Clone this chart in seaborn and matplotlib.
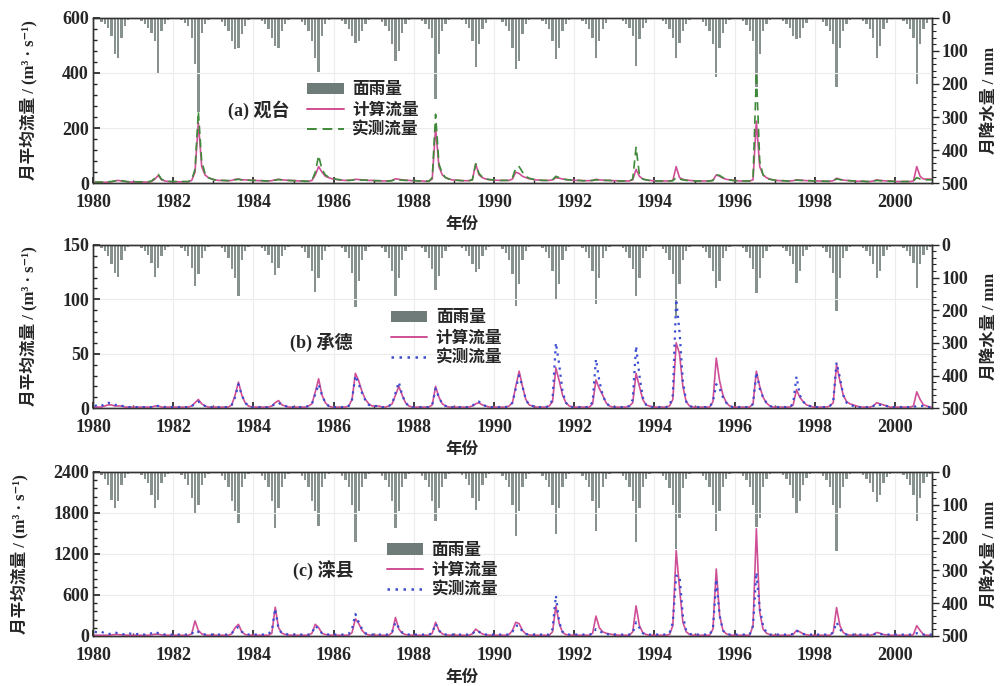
import numpy as np
import pandas as pd
import matplotlib
matplotlib.use("Agg")
import matplotlib.pyplot as plt
from matplotlib.patches import Patch
from matplotlib.lines import Line2D
from matplotlib.ticker import MultipleLocator
import seaborn as sns

years = list(range(1980, 2001))

# (a) 观台 —— monthly rows, Jan..Dec
guantai_rain = [
    [2, 5, 12, 20, 30, 55, 110, 122, 60, 25, 8, 3],
    [3, 4, 10, 18, 30, 45, 70, 168, 40, 20, 6, 2],
    [2, 3, 8, 15, 25, 60, 140, 285, 45, 20, 6, 2],
    [3, 5, 12, 25, 40, 70, 95, 90, 50, 25, 8, 3],
    [2, 4, 10, 20, 35, 60, 85, 92, 40, 18, 6, 2],
    [2, 4, 12, 22, 40, 70, 120, 163, 55, 20, 6, 2],
    [2, 4, 10, 20, 35, 55, 75, 70, 40, 18, 6, 2],
    [3, 5, 12, 25, 40, 80, 130, 100, 45, 20, 8, 3],
    [2, 4, 10, 20, 35, 60, 245, 110, 40, 18, 6, 2],
    [2, 3, 8, 18, 30, 70, 148, 80, 35, 15, 5, 2],
    [3, 5, 12, 25, 40, 90, 155, 130, 50, 20, 7, 3],
    [2, 4, 10, 20, 35, 70, 125, 90, 40, 18, 6, 2],
    [2, 4, 10, 20, 35, 60, 120, 70, 35, 15, 5, 2],
    [2, 4, 10, 20, 30, 55, 145, 65, 30, 15, 5, 2],
    [2, 4, 10, 20, 35, 60, 120, 75, 40, 18, 6, 2],
    [3, 5, 12, 25, 40, 80, 180, 90, 45, 20, 7, 3],
    [2, 4, 10, 22, 40, 70, 210, 110, 40, 18, 6, 2],
    [2, 4, 10, 20, 30, 55, 65, 60, 30, 15, 5, 2],
    [3, 5, 12, 25, 40, 80, 210, 90, 40, 18, 6, 2],
    [2, 4, 10, 20, 35, 60, 120, 85, 35, 15, 5, 2],
    [2, 4, 10, 20, 35, 60, 200, 80, 35, 15, 5, 2],
]
guantai_calc = [
    [3, 3, 3, 3, 4, 5, 8, 10, 8, 6, 5, 4],
    [4, 4, 4, 4, 4, 6, 15, 28, 12, 8, 6, 5],
    [5, 5, 5, 5, 5, 10, 40, 220, 60, 30, 20, 15],
    [12, 10, 10, 9, 9, 10, 14, 15, 12, 12, 11, 10],
    [10, 9, 9, 8, 8, 9, 12, 14, 12, 11, 10, 10],
    [9, 8, 8, 7, 7, 10, 30, 60, 40, 25, 20, 16],
    [14, 12, 11, 10, 10, 11, 14, 13, 12, 11, 10, 10],
    [9, 9, 8, 8, 8, 10, 16, 14, 12, 11, 10, 9],
    [9, 8, 8, 7, 7, 15, 200, 60, 30, 20, 15, 12],
    [11, 10, 9, 9, 9, 12, 70, 30, 20, 15, 13, 12],
    [11, 10, 10, 10, 10, 15, 40, 35, 25, 20, 16, 14],
    [12, 11, 10, 10, 10, 12, 20, 18, 15, 13, 12, 11],
    [10, 10, 9, 9, 9, 10, 14, 12, 11, 10, 10, 9],
    [9, 8, 8, 8, 8, 12, 50, 25, 15, 12, 10, 9],
    [8, 8, 8, 8, 8, 10, 60, 20, 14, 11, 10, 9],
    [8, 8, 8, 8, 8, 10, 30, 25, 18, 14, 12, 10],
    [9, 8, 8, 8, 8, 12, 225, 60, 30, 20, 15, 12],
    [10, 9, 9, 8, 8, 9, 12, 11, 10, 9, 9, 8],
    [8, 8, 7, 7, 7, 9, 18, 14, 11, 10, 9, 8],
    [7, 7, 7, 6, 6, 8, 12, 10, 9, 8, 8, 7],
    [6, 6, 6, 6, 6, 8, 60, 25, 15, 15, 15, 14],
]
guantai_obs = [
    [4, 4, 4, 4, 5, 6, 8, 12, 9, 7, 5, 5],
    [5, 5, 5, 5, 5, 8, 18, 32, 14, 9, 7, 6],
    [6, 6, 6, 6, 6, 12, 50, 260, 80, 35, 20, 15],
    [12, 11, 10, 10, 9, 10, 12, 14, 12, 12, 11, 10],
    [10, 9, 9, 8, 8, 9, 11, 13, 12, 11, 10, 9],
    [9, 8, 8, 7, 7, 10, 40, 100, 50, 30, 22, 18],
    [15, 13, 12, 11, 10, 11, 13, 12, 11, 11, 10, 10],
    [9, 9, 8, 8, 8, 9, 14, 12, 11, 10, 10, 9],
    [9, 8, 8, 7, 7, 20, 250, 70, 35, 20, 15, 12],
    [11, 10, 9, 9, 9, 12, 70, 35, 22, 16, 13, 12],
    [11, 10, 10, 10, 10, 20, 55, 60, 40, 25, 18, 15],
    [12, 11, 10, 10, 10, 12, 25, 20, 16, 13, 12, 11],
    [10, 10, 9, 9, 9, 10, 12, 11, 10, 10, 10, 9],
    [9, 8, 8, 8, 8, 15, 130, 30, 15, 12, 10, 9],
    [8, 8, 8, 8, 8, 9, 20, 15, 12, 10, 10, 9],
    [8, 8, 8, 8, 8, 10, 30, 28, 20, 15, 12, 10],
    [9, 8, 8, 8, 8, 15, 400, 80, 30, 18, 14, 12],
    [10, 9, 9, 8, 8, 9, 11, 10, 10, 9, 9, 8],
    [8, 8, 7, 7, 7, 9, 15, 13, 11, 10, 9, 8],
    [7, 7, 7, 6, 6, 7, 10, 9, 8, 8, 7, 7],
    [6, 6, 6, 6, 6, 8, 20, 15, 12, 12, 12, 12],
]

# (b) 承德
chengde_rain = [
    [2, 4, 10, 20, 35, 60, 85, 97, 45, 20, 6, 2],
    [2, 3, 8, 18, 30, 55, 97, 70, 35, 15, 5, 2],
    [2, 4, 10, 20, 35, 70, 127, 90, 40, 18, 6, 2],
    [2, 4, 10, 22, 40, 75, 100, 158, 45, 20, 6, 2],
    [2, 4, 10, 20, 30, 55, 92, 70, 35, 15, 5, 2],
    [2, 4, 10, 22, 40, 80, 143, 100, 45, 20, 6, 2],
    [2, 4, 10, 22, 40, 85, 189, 110, 45, 20, 6, 2],
    [2, 4, 10, 22, 40, 80, 158, 100, 45, 20, 6, 2],
    [2, 4, 10, 22, 40, 75, 138, 95, 40, 18, 6, 2],
    [2, 4, 10, 20, 35, 60, 82, 75, 35, 15, 5, 2],
    [2, 4, 12, 25, 45, 90, 188, 120, 45, 20, 6, 2],
    [2, 4, 10, 22, 40, 80, 167, 120, 45, 18, 6, 2],
    [2, 4, 10, 22, 40, 80, 182, 100, 40, 18, 6, 2],
    [2, 4, 10, 22, 40, 75, 157, 100, 40, 18, 6, 2],
    [2, 4, 12, 25, 45, 90, 218, 120, 45, 20, 6, 2],
    [2, 4, 10, 22, 40, 80, 131, 110, 40, 18, 6, 2],
    [2, 4, 10, 22, 40, 75, 146, 100, 40, 18, 6, 2],
    [2, 4, 10, 20, 35, 60, 116, 80, 35, 15, 5, 2],
    [2, 4, 10, 22, 40, 85, 203, 100, 40, 18, 6, 2],
    [2, 4, 10, 20, 35, 60, 100, 80, 35, 15, 5, 2],
    [2, 4, 10, 20, 35, 55, 131, 60, 30, 15, 5, 2],
]
chengde_calc = [
    [1, 1, 1, 2, 3, 3, 2, 2, 2, 1, 1, 1],
    [1, 1, 1, 1, 1, 1, 2, 2, 1, 1, 1, 1],
    [1, 1, 1, 1, 1, 2, 5, 8, 4, 2, 1, 1],
    [1, 1, 1, 1, 1, 3, 12, 24, 12, 5, 2, 1],
    [1, 1, 1, 1, 1, 2, 5, 7, 3, 2, 1, 1],
    [1, 1, 1, 1, 2, 4, 15, 27, 12, 5, 2, 1],
    [1, 1, 1, 1, 2, 8, 32, 25, 15, 8, 4, 2],
    [2, 2, 1, 1, 2, 4, 12, 20, 12, 5, 2, 1],
    [1, 1, 1, 1, 1, 3, 20, 10, 4, 2, 1, 1],
    [1, 1, 1, 1, 1, 2, 4, 5, 3, 2, 1, 1],
    [1, 1, 1, 1, 2, 5, 20, 34, 20, 8, 3, 2],
    [1, 1, 1, 1, 2, 6, 37, 25, 12, 5, 2, 1],
    [1, 1, 1, 1, 1, 4, 26, 18, 12, 5, 2, 1],
    [1, 1, 1, 1, 2, 5, 32, 20, 8, 3, 2, 1],
    [1, 1, 1, 1, 2, 8, 60, 50, 20, 6, 2, 1],
    [1, 1, 1, 1, 1, 6, 46, 25, 12, 5, 2, 1],
    [1, 1, 1, 1, 1, 4, 34, 20, 10, 5, 2, 1],
    [1, 1, 1, 1, 1, 3, 17, 10, 6, 3, 2, 1],
    [1, 1, 1, 1, 2, 5, 40, 25, 12, 6, 4, 3],
    [2, 1, 1, 1, 1, 2, 5, 4, 3, 2, 1, 1],
    [1, 1, 1, 1, 1, 2, 15, 8, 3, 2, 1, 1],
]
chengde_obs = [
    [2, 3, 2, 4, 5, 4, 3, 3, 2, 2, 1, 1],
    [1, 1, 1, 1, 1, 1, 2, 2, 2, 1, 1, 1],
    [1, 1, 1, 1, 1, 2, 4, 6, 4, 2, 1, 1],
    [1, 1, 1, 1, 1, 3, 10, 22, 12, 5, 2, 1],
    [1, 1, 1, 1, 1, 2, 4, 5, 3, 2, 1, 1],
    [1, 1, 1, 1, 2, 4, 13, 22, 12, 5, 2, 1],
    [1, 1, 1, 1, 2, 8, 30, 22, 14, 7, 3, 2],
    [2, 2, 1, 1, 2, 4, 14, 24, 12, 5, 2, 1],
    [1, 1, 1, 1, 1, 3, 18, 10, 4, 2, 1, 1],
    [1, 1, 1, 1, 1, 2, 5, 6, 3, 2, 1, 1],
    [1, 1, 1, 1, 2, 5, 18, 30, 20, 8, 3, 2],
    [1, 1, 1, 1, 2, 8, 60, 40, 15, 5, 2, 1],
    [1, 1, 1, 1, 1, 6, 45, 25, 12, 5, 2, 1],
    [1, 1, 1, 1, 2, 8, 57, 30, 10, 3, 2, 1],
    [1, 1, 1, 1, 2, 12, 100, 70, 25, 6, 2, 1],
    [1, 1, 1, 1, 1, 6, 22, 18, 10, 5, 2, 1],
    [1, 1, 1, 1, 1, 4, 33, 18, 10, 5, 2, 1],
    [1, 1, 1, 1, 1, 4, 29, 12, 6, 3, 2, 1],
    [1, 1, 1, 1, 2, 6, 42, 28, 12, 5, 3, 2],
    [1, 1, 1, 1, 1, 2, 4, 3, 3, 2, 1, 1],
    [1, 1, 1, 1, 1, 1, 2, 2, 2, 1, 1, 1],
]

# (c) 滦县
luanxian_rain = [
    [2, 4, 10, 20, 40, 84, 110, 90, 40, 18, 5, 2],
    [2, 4, 10, 20, 35, 70, 110, 85, 35, 15, 5, 2],
    [2, 4, 10, 22, 40, 80, 125, 100, 40, 18, 6, 2],
    [2, 4, 12, 25, 45, 90, 120, 156, 45, 20, 6, 2],
    [2, 4, 12, 25, 45, 90, 171, 110, 45, 20, 6, 2],
    [2, 4, 12, 25, 45, 90, 120, 166, 45, 20, 6, 2],
    [2, 4, 12, 25, 45, 100, 215, 120, 45, 20, 6, 2],
    [2, 4, 12, 25, 45, 90, 171, 120, 45, 20, 6, 2],
    [2, 4, 12, 25, 45, 90, 151, 110, 45, 20, 6, 2],
    [2, 4, 10, 22, 40, 80, 115, 90, 40, 18, 5, 2],
    [2, 4, 12, 25, 45, 100, 194, 120, 45, 20, 6, 2],
    [2, 4, 12, 25, 45, 100, 189, 110, 45, 20, 6, 2],
    [2, 4, 12, 25, 45, 90, 179, 110, 45, 20, 6, 2],
    [2, 4, 12, 25, 45, 90, 214, 110, 45, 20, 6, 2],
    [2, 4, 12, 25, 50, 100, 235, 140, 50, 20, 6, 2],
    [2, 4, 12, 25, 45, 100, 179, 120, 45, 20, 6, 2],
    [2, 4, 12, 25, 45, 100, 168, 140, 45, 20, 6, 2],
    [2, 4, 10, 22, 40, 80, 128, 90, 40, 18, 5, 2],
    [2, 4, 12, 25, 45, 100, 240, 110, 45, 20, 6, 2],
    [2, 4, 10, 20, 35, 60, 92, 70, 35, 15, 5, 2],
    [2, 4, 10, 22, 40, 70, 150, 80, 35, 15, 5, 2],
]
luanxian_calc = [
    [10, 10, 10, 10, 10, 15, 20, 20, 15, 12, 10, 10],
    [10, 10, 10, 10, 10, 15, 25, 25, 15, 12, 10, 10],
    [10, 10, 10, 10, 10, 30, 220, 80, 30, 15, 10, 10],
    [10, 10, 10, 10, 10, 30, 120, 170, 60, 20, 12, 10],
    [10, 10, 10, 10, 10, 40, 420, 120, 40, 20, 12, 10],
    [10, 10, 10, 10, 10, 40, 170, 120, 40, 20, 12, 10],
    [10, 10, 10, 10, 10, 50, 250, 180, 80, 30, 15, 10],
    [10, 10, 10, 10, 10, 50, 270, 100, 40, 20, 12, 10],
    [10, 10, 10, 10, 10, 40, 200, 80, 30, 15, 12, 10],
    [10, 10, 10, 10, 10, 30, 100, 60, 30, 15, 12, 10],
    [10, 10, 10, 10, 20, 80, 200, 180, 80, 30, 15, 10],
    [10, 10, 10, 10, 10, 60, 440, 180, 50, 20, 12, 10],
    [10, 10, 10, 10, 10, 40, 290, 120, 60, 40, 30, 20],
    [15, 10, 10, 10, 10, 60, 440, 150, 50, 20, 12, 10],
    [10, 10, 10, 10, 20, 150, 1250, 700, 200, 60, 20, 10],
    [10, 10, 10, 10, 10, 100, 980, 300, 80, 30, 15, 10],
    [10, 10, 10, 10, 10, 150, 1570, 350, 100, 40, 20, 10],
    [10, 10, 10, 10, 10, 20, 80, 60, 30, 15, 10, 10],
    [10, 10, 10, 10, 10, 50, 415, 150, 50, 20, 12, 10],
    [10, 10, 10, 10, 10, 20, 50, 40, 20, 15, 10, 10],
    [10, 10, 10, 10, 10, 20, 150, 80, 20, 10, 10, 10],
]
luanxian_obs = [
    [60, 50, 60, 40, 30, 30, 50, 40, 30, 20, 40, 30],
    [20, 30, 20, 20, 20, 40, 60, 40, 30, 20, 20, 20],
    [20, 20, 20, 20, 20, 30, 80, 60, 30, 20, 20, 20],
    [20, 20, 20, 20, 20, 40, 100, 130, 60, 30, 20, 20],
    [20, 20, 20, 20, 30, 80, 400, 100, 40, 30, 20, 20],
    [20, 20, 20, 20, 20, 40, 150, 100, 40, 30, 20, 20],
    [20, 20, 20, 20, 30, 100, 320, 200, 100, 40, 20, 20],
    [20, 20, 20, 20, 20, 60, 200, 120, 50, 30, 20, 20],
    [20, 20, 20, 20, 20, 40, 180, 80, 30, 20, 20, 20],
    [20, 20, 20, 20, 20, 30, 80, 60, 30, 20, 20, 20],
    [20, 20, 20, 20, 20, 60, 150, 150, 60, 30, 20, 20],
    [20, 20, 20, 20, 20, 100, 590, 200, 60, 30, 20, 20],
    [20, 20, 20, 20, 20, 30, 100, 80, 40, 30, 20, 20],
    [20, 20, 20, 20, 20, 40, 200, 120, 40, 20, 20, 20],
    [20, 20, 20, 20, 40, 200, 880, 880, 300, 80, 30, 20],
    [20, 20, 20, 20, 20, 100, 830, 300, 80, 30, 20, 20],
    [20, 20, 20, 20, 20, 150, 930, 400, 150, 50, 20, 20],
    [20, 20, 20, 20, 20, 30, 80, 50, 30, 20, 20, 20],
    [20, 20, 20, 20, 20, 50, 200, 100, 40, 20, 20, 20],
    [20, 20, 20, 20, 20, 20, 40, 30, 20, 20, 20, 20],
    [20, 20, 20, 20, 20, 20, 40, 30, 20, 20, 20, 20],
]

panel_names = ['(a) 观台', '(b) 承德', '(c) 滦县']
flow_max = [600, 150, 2400]
flow_step = [200, 50, 600]

sns.set_theme(style='white')
plt.rcParams['font.family'] = ['Liberation Serif', 'Noto Sans CJK SC', 'DejaVu Sans']
plt.rcParams['axes.unicode_minus'] = False

BAR = '#87928f'
CALC = '#cf4f96'
OBS_A = '#3f8a3a'
OBS_B = '#3b4cd0'

fig = plt.figure(figsize=(10.01, 6.86), dpi=100)
boxes = [[0.093, 0.733, 0.838, 0.241],
         [0.093, 0.405, 0.838, 0.238],
         [0.093, 0.073, 0.838, 0.239]]
text_pos = [(0.161, 0.44), (0.235, 0.40), (0.238, 0.40)]
leg_pos = [(0.245, 0.66), (0.345, 0.65), (0.34, 0.62)]

series = [(guantai_rain, guantai_calc, guantai_obs),
          (chengde_rain, chengde_calc, chengde_obs),
          (luanxian_rain, luanxian_calc, luanxian_obs)]

for i, (rain, calc, obs) in enumerate(series):
    t = [y + (m + 0.5) / 12 for y in years for m in range(12)]
    df = pd.DataFrame({
        't': t,
        'rain': np.ravel(rain),
        'calc': np.ravel(calc),
        'obs': np.ravel(obs),
    })

    ax = fig.add_axes(boxes[i])
    ax2 = ax.twinx()
    ax.set_zorder(ax2.get_zorder() + 1)
    ax.patch.set_visible(False)

    ax2.bar(df['t'], df['rain'], width=0.058, color=BAR, linewidth=0)
    ax2.set_ylim(500, 0)
    ax2.yaxis.set_major_locator(MultipleLocator(100))
    ax2.yaxis.set_minor_locator(MultipleLocator(20))
    ax2.tick_params(axis='y', which='major', direction='out', length=5, width=1,
                    labelsize=13, pad=2, right=True)
    ax2.tick_params(axis='y', which='minor', direction='out', length=3, width=0.8, right=True)
    ax2.set_ylabel('月降水量 / mm', fontsize=12, fontweight='bold', labelpad=10)
    ax2.grid(False)

    sns.lineplot(data=df, x='t', y='calc', ax=ax, color=CALC, lw=1.2)
    if i == 0:
        sns.lineplot(data=df, x='t', y='obs', ax=ax, color=OBS_A, lw=1.2,
                     linestyle=(0, (5, 3)))
        obs_handle = Line2D([], [], color=OBS_A, lw=1.4, linestyle=(0, (5, 3)))
    else:
        sns.lineplot(data=df, x='t', y='obs', ax=ax, color=OBS_B, lw=1.6,
                     linestyle=(0, (1, 2.2)))
        obs_handle = Line2D([], [], color=OBS_B, lw=1.8, linestyle=(0, (1, 2.2)))

    ax.set_xlim(1980, 2000.92)
    ax.set_ylim(0, flow_max[i])
    ax.yaxis.set_major_locator(MultipleLocator(flow_step[i]))
    ax.yaxis.set_minor_locator(MultipleLocator(flow_step[i] / 5))
    ax.xaxis.set_major_locator(MultipleLocator(2))
    ax.xaxis.set_minor_locator(MultipleLocator(1))
    ax.tick_params(axis='y', which='major', direction='in', length=5, labelsize=13,
                   left=True, pad=3)
    ax.tick_params(axis='y', which='minor', direction='in', length=3, left=True)
    ax.tick_params(axis='x', which='major', direction='in', length=4, labelsize=13,
                   bottom=True, pad=8)
    ax.tick_params(axis='x', which='minor', direction='in', length=2, bottom=True)
    for lab in ax.get_xticklabels() + ax.get_yticklabels() + ax2.get_yticklabels():
        lab.set_fontweight('bold')
    ax.grid(True, which='major', color='#ececec', lw=0.8)
    ax.set_axisbelow(True)
    for sp in list(ax.spines.values()) + list(ax2.spines.values()):
        sp.set_color('#333333')
        sp.set_linewidth(1.0)

    ax.set_xlabel('年份', fontsize=12, fontweight='bold')
    ax.xaxis.set_label_coords(0.44, -0.205)
    ax.set_ylabel('月平均流量 / (m³ · s⁻¹)', fontsize=12, fontweight='bold', labelpad=18)

    ax.text(text_pos[i][0], text_pos[i][1], panel_names[i], transform=ax.transAxes,
            fontsize=13, fontweight='bold', va='center', ha='left')

    handles = [Patch(facecolor='#6f7b78', edgecolor='none'),
               Line2D([], [], color=CALC, lw=1.4), obs_handle]
    ax.legend(handles, ['面雨量', '计算流量', '实测流量'], loc='upper left',
              bbox_to_anchor=leg_pos[i], frameon=False,
              prop={'weight': 'bold', 'size': 12}, handlelength=2.2,
              labelspacing=0.25, borderpad=0, handletextpad=0.5)

fig.savefig('out.png', dpi=100)
